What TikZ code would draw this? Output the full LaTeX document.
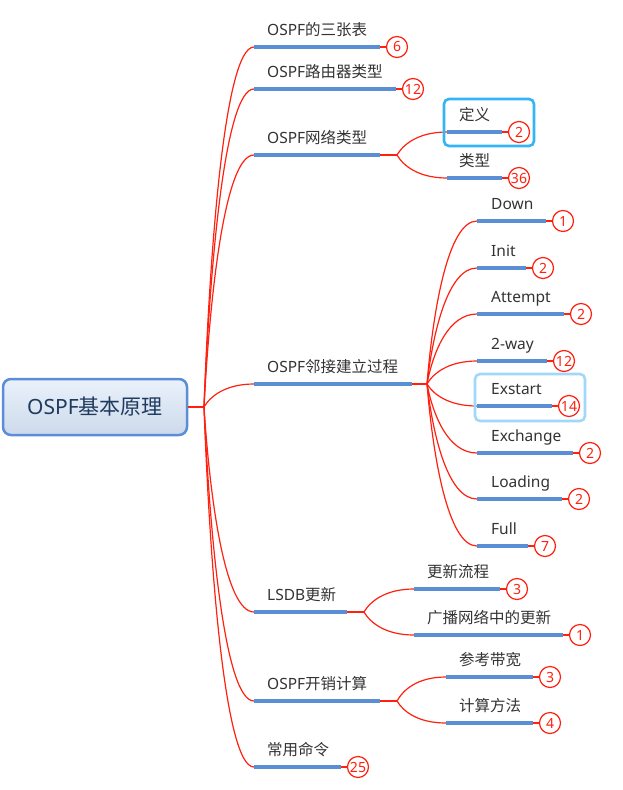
\documentclass[tikz,border=0pt]{standalone}
\usepackage{fontspec}
\setmainfont{Noto Sans}
\newfontfamily\cjk{Noto Sans CJK SC}
\usetikzlibrary{calc}
\definecolor{barblue}{HTML}{5B8FD5}
\definecolor{linkred}{HTML}{FF2010}
\definecolor{txt}{HTML}{333333}
\definecolor{selA}{HTML}{33B5F5}
\definecolor{selB}{HTML}{A0D8FA}
\definecolor{rootborder}{HTML}{5B8ED6}
\definecolor{roottop}{HTML}{EAF1FB}
\definecolor{rootbot}{HTML}{CDDAEB}
\definecolor{roottext}{HTML}{1F3A5F}
\tikzset{
  bar/.style={draw=barblue, line width=4pt},
  conn/.style={draw=linkred, line width=1.2pt},
  hubline/.style={draw=linkred, line width=2pt},
  rootline/.style={draw=linkred, line width=2.6pt},
  topic/.style={anchor=base west, inner sep=0pt, text=txt, font=\fontsize{15.5}{18}\selectfont},
  badge/.style={circle, draw=linkred, fill=white, line width=1.2pt, minimum size=21pt, inner sep=0pt, text=linkred, font=\fontsize{14}{14}\selectfont},
  rootbox/.style={rounded corners=8pt, draw=rootborder, line width=2.5pt, top color=roottop, bottom color=rootbot, minimum width=184pt, minimum height=56pt, inner sep=0pt, text=roottext, font=\fontsize{21}{24}\selectfont},
  selboxA/.style={draw=selA, line width=2.6pt, rounded corners=5pt},
  selboxB/.style={draw=selB, line width=2.6pt, rounded corners=5pt},
}
\newcommand\mmtopic[6]{%
  \coordinate (#1-s) at (#2,-#4);
  \coordinate (#1-e) at (#3,-#4);
  \node[topic] (#1-t) at (#5,-#4+12) {#6};
}
\newcommand\mmbar[1]{\draw[bar] (#1-s) -- (#1-e);}
\newcommand\mmbadge[2]{%
  \node[badge] (#1-b) at ($(#1-e)+(17pt,0)$) {#2};
  \draw[conn] (#1-e) -- (#1-b);
}
\newcommand\mmcurve[2]{\draw[conn] (#1) .. controls ($(#1)!0.45!(#1|-#2)+(6pt,0)$) and ($(#2)+(-29pt,0)$) .. (#2);}
\begin{document}
\begin{tikzpicture}[x=1pt,y=1pt]
\useasboundingbox (0,0) rectangle (623,-790);
% root
\node[rootbox] (root) at (95,-407) {OSPF{\cjk 基本原理}};
\coordinate (hub) at (204,-407);
% level 1 topics
\mmtopic{n1}{254}{380}{47}{267}{OSPF{\cjk 的三张表}}
\mmtopic{n2}{254}{396}{89}{267}{OSPF{\cjk 路由器类型}}
\mmtopic{n3}{254}{380}{155}{267}{OSPF{\cjk 网络类型}}
\mmtopic{n4}{254}{412}{384}{267}{OSPF{\cjk 邻接建立过程}}
\mmtopic{n5}{254}{347}{612}{267}{LSDB{\cjk 更新}}
\mmtopic{n6}{254}{380}{701}{267}{OSPF{\cjk 开销计算}}
\mmtopic{n7}{254}{341}{767}{267}{{\cjk 常用命令}}
% level 2 topics
\mmtopic{a1}{447}{502}{132}{459}{{\cjk 定义}}
\mmtopic{a2}{447}{502}{178}{459}{{\cjk 类型}}
\mmtopic{b1}{477}{546}{221}{491}{Down}
\mmtopic{b2}{477}{526}{268}{491}{Init}
\mmtopic{b3}{477}{564}{314}{491}{Attempt}
\mmtopic{b4}{477}{547}{361}{491}{2-way}
\mmtopic{b5}{477}{552}{406}{491}{Exstart}
\mmtopic{b6}{477}{573}{453}{491}{Exchange}
\mmtopic{b7}{477}{562}{499}{491}{Loading}
\mmtopic{b8}{477}{528}{546}{491}{Full}
\mmtopic{c1}{414}{500}{589}{427}{{\cjk 更新流程}}
\mmtopic{c2}{414}{563}{635}{427}{{\cjk 广播网络中的更新}}
\mmtopic{d1}{446}{533}{677}{459}{{\cjk 参考带宽}}
\mmtopic{d2}{446}{533}{723}{459}{{\cjk 计算方法}}
% hubs
\coordinate (h3) at (397,-155);
\coordinate (h4) at (427,-384);
\coordinate (h5) at (364,-612);
\coordinate (h6) at (397,-701);
% connectors
\draw[rootline] (root.east) -- (hub);
\foreach \n in {n1,n2,n3,n4,n5,n6,n7} {\mmcurve{hub}{\n-s}}
\draw[hubline] (n3-e) -- (h3);
\draw[hubline] (n4-e) -- (h4);
\draw[hubline] (n5-e) -- (h5);
\draw[hubline] (n6-e) -- (h6);
\foreach \n in {a1,a2} {\mmcurve{h3}{\n-s}}
\foreach \n in {b1,b2,b3,b4,b5,b6,b7,b8} {\mmcurve{h4}{\n-s}}
\foreach \n in {c1,c2} {\mmcurve{h5}{\n-s}}
\foreach \n in {d1,d2} {\mmcurve{h6}{\n-s}}
% bars
\foreach \n in {n1,n2,n3,n4,n5,n6,n7,a1,a2,b1,b2,b3,b4,b5,b6,b7,b8,c1,c2,d1,d2} {\mmbar{\n}}
% badges
\mmbadge{n1}{6}
\mmbadge{n2}{12}
\mmbadge{n7}{25}
\mmbadge{a1}{2}
\mmbadge{a2}{36}
\mmbadge{b1}{1}
\mmbadge{b2}{2}
\mmbadge{b3}{2}
\mmbadge{b4}{12}
\mmbadge{b5}{14}
\mmbadge{b6}{2}
\mmbadge{b7}{2}
\mmbadge{b8}{7}
\mmbadge{c1}{3}
\mmbadge{c2}{1}
\mmbadge{d1}{3}
\mmbadge{d2}{4}
% selection frames
\draw[selboxA] (444,-99) rectangle (534,-146);
\draw[selboxB] (475,-374) rectangle (585,-421);
\end{tikzpicture}
\end{document}
